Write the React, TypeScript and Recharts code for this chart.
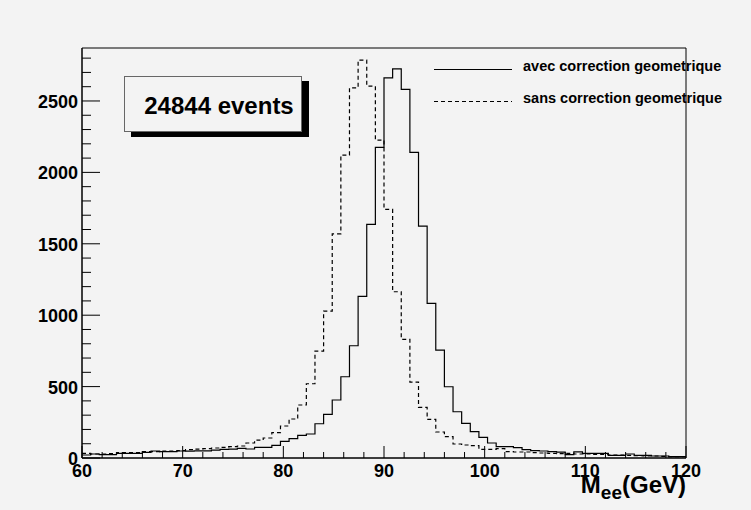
import React from 'react';
import { LineChart, Line, XAxis, YAxis, ReferenceArea, Label } from 'recharts';

// histogram range: 70 bins between 60 and 120 GeV
const X_MIN = 60;
const X_MAX = 120;
const N_BINS = 70;
const Y_MAX = 2871;

// bin contents
const withCorrection = [
  21, 28, 24, 24, 33, 33, 33, 40, 49, 45, 45, 49,
  48, 50, 50, 55, 60, 62, 68, 63, 75, 75,
  89, 117, 135, 159, 168, 240, 306, 406, 569, 786, 1132, 1636, 2175, 2662, 2725, 2581,
  2140, 1624, 1083, 756, 499, 324, 243, 184, 145, 105, 79, 79, 72, 58, 51, 49,
  44, 41, 24, 43, 33, 33, 33, 19, 19, 28, 19, 19, 14, 14, 9, 9,
];
const withoutCorrection = [
  33, 28, 28, 30, 37, 37, 37, 44, 44, 49, 49, 52,
  58, 62, 66, 70, 75, 80, 84, 105, 125, 140,
  177, 224, 273, 371, 520, 749, 1029, 1570, 2121, 2592, 2786, 2604, 2226, 1741, 1164, 831,
  532, 355, 271, 182, 149, 98, 91, 86, 61, 61, 65, 44, 42, 42, 37, 35,
  33, 30, 33, 28, 28, 25, 25, 20, 20, 18, 16, 14, 14, 12, 10, 10,
];

const X_MAJOR = [60, 70, 80, 90, 100, 110, 120];
const X_TICKS = Array.from({ length: 31 }, (_, i) => 60 + i * 2);
const Y_MAJOR = [0, 500, 1000, 1500, 2000, 2500];
const Y_TICKS = Array.from({ length: 29 }, (_, i) => i * 100);

const LEGEND = [
  { label: 'avec correction geometrique', dash: undefined as string | undefined },
  { label: 'sans correction geometrique', dash: '4 3' },
];
const EVENTS_LABEL = '24844 events';

const FONT = '"Liberation Sans", Arial, Helvetica, sans-serif';
const BG = '#f3f3f3';

const data = Array.from({ length: N_BINS + 1 }, (_, i) => {
  const b = Math.min(i, N_BINS - 1);
  return {
    x: X_MIN + (i * (X_MAX - X_MIN)) / N_BINS,
    avec: withCorrection[b],
    sans: withoutCorrection[b],
  };
});

const renderXTick = (props: any) => {
  const { x, y, payload } = props;
  const major = X_MAJOR.includes(payload.value);
  return (
    <g>
      <line x1={x} x2={x} y1={y} y2={y - (major ? 12 : 6)} stroke="#000" />
      {major && (
        <text x={x} y={y + 19} textAnchor="middle" fontFamily={FONT} fontWeight="bold" fontSize={18} fill="#000">
          {payload.value}
        </text>
      )}
    </g>
  );
};

const renderYTick = (props: any) => {
  const { x, y, payload } = props;
  const major = Y_MAJOR.includes(payload.value);
  return (
    <g>
      <line x1={x} x2={x + (major ? 18 : 9)} y1={y} y2={y} stroke="#000" />
      {major && (
        <text x={x - 4} y={y + 7} textAnchor="end" fontFamily={FONT} fontWeight="bold" fontSize={18} fill="#000">
          {payload.value}
        </text>
      )}
    </g>
  );
};

const renderAxisTitle = (props: any) => {
  const vb = props.viewBox || {};
  return (
    <text x={vb.x + vb.width} y={vb.y + 35} textAnchor="end" fontFamily={FONT} fontWeight="bold" fontSize={24} fill="#000">
      M
      <tspan fontSize={19} dy={6}>ee</tspan>
      <tspan dy={-6}>(GeV)</tspan>
    </text>
  );
};

export default function App() {
  return (
    <div style={{ position: 'absolute', left: 0, top: 0, width: 751, height: 510, background: BG }}>
      <LineChart width={751} height={510} data={data} margin={{ top: 48, right: 65, bottom: 12, left: 12 }}>
        <XAxis
          type="number"
          dataKey="x"
          domain={[X_MIN, X_MAX]}
          ticks={X_TICKS}
          interval={0}
          height={40}
          tickSize={0}
          tickMargin={0}
          tickLine={false}
          axisLine={{ stroke: '#000' }}
          tick={renderXTick}
          allowDataOverflow
        >
          <Label content={renderAxisTitle} />
        </XAxis>
        <YAxis
          type="number"
          domain={[0, Y_MAX]}
          ticks={Y_TICKS}
          interval={0}
          width={70}
          tickSize={0}
          tickMargin={0}
          tickLine={false}
          axisLine={{ stroke: '#000' }}
          tick={renderYTick}
          allowDataOverflow
        />
        <ReferenceArea x1={X_MIN} x2={X_MAX} y1={0} y2={Y_MAX} fill="none" stroke="#000" strokeWidth={1} />
        <Line
          type="stepAfter"
          dataKey="sans"
          stroke="#000"
          strokeWidth={1.2}
          strokeDasharray="4 3"
          dot={false}
          isAnimationActive={false}
        />
        <Line
          type="stepAfter"
          dataKey="avec"
          stroke="#000"
          strokeWidth={1.2}
          dot={false}
          isAnimationActive={false}
        />
      </LineChart>

      <svg width={751} height={510} style={{ position: 'absolute', left: 0, top: 0, pointerEvents: 'none' }}>
        {/* events box with shadow */}
        <rect x={131} y={81} width={178} height={56} fill="#000" />
        <rect x={124.5} y={76.5} width={177} height={55} fill={BG} stroke="#666" />
        <text x={219} y={114} textAnchor="middle" fontFamily={FONT} fontWeight="bold" fontSize={24} fill="#000">
          {EVENTS_LABEL}
        </text>

        {/* legend */}
        {LEGEND.map((item, i) => (
          <g key={item.label}>
            <line
              x1={434}
              x2={512}
              y1={69.5 + i * 32}
              y2={69.5 + i * 32}
              stroke="#000"
              strokeWidth={1.2}
              strokeDasharray={item.dash}
            />
            <text x={523} y={71 + i * 32} fontFamily={FONT} fontWeight="bold" fontSize={14.5} fill="#000">
              {item.label}
            </text>
          </g>
        ))}
      </svg>
    </div>
  );
}
